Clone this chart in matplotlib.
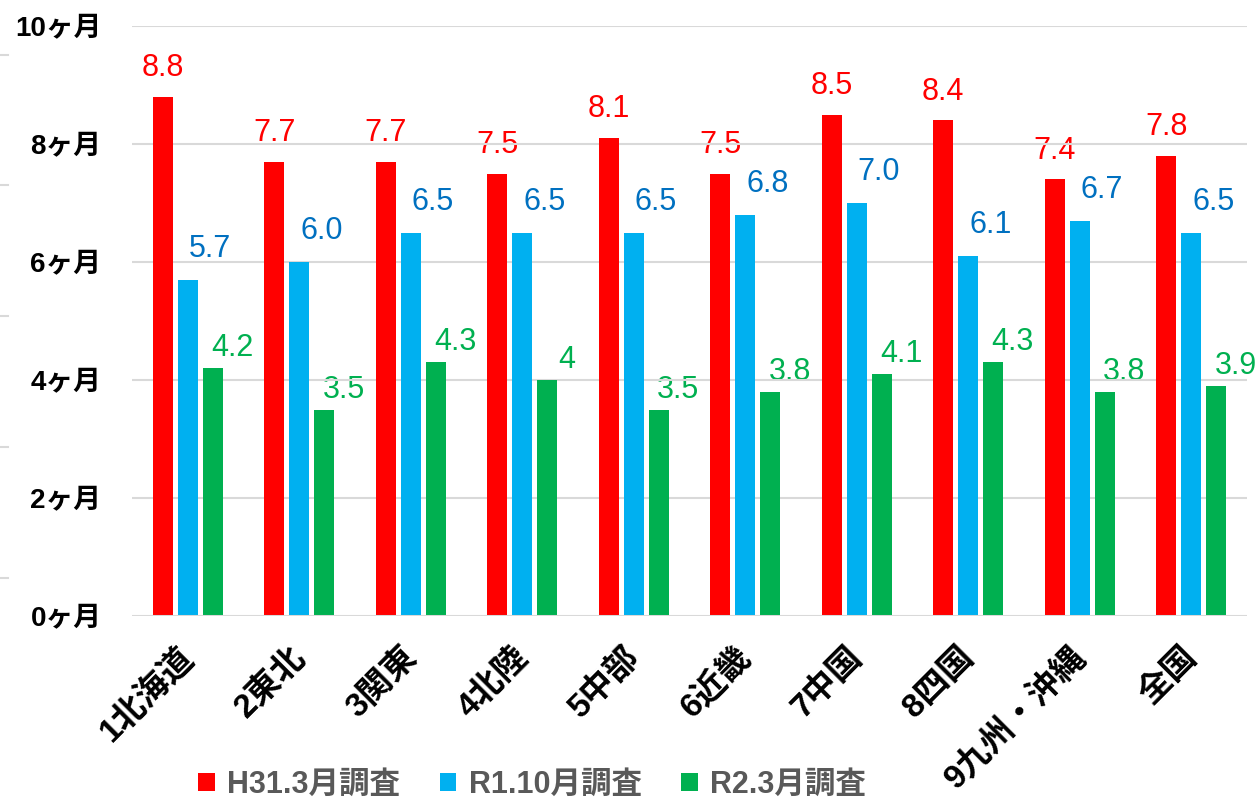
import matplotlib
matplotlib.use("Agg")
import matplotlib.pyplot as plt
from matplotlib.patches import Patch
from matplotlib.lines import Line2D
import matplotlib.transforms as mtransforms
import numpy as np

categories = ["1北海道", "2東北", "3関東", "4北陸", "5中部", "6近畿", "7中国", "8四国", "9九州・沖縄", "全国"]
h31 = [8.8, 7.7, 7.7, 7.5, 8.1, 7.5, 8.5, 8.4, 7.4, 7.8]
r1 = [5.7, 6.0, 6.5, 6.5, 6.5, 6.8, 7.0, 6.1, 6.7, 6.5]
r2 = [4.2, 3.5, 4.3, 4.0, 3.5, 3.8, 4.1, 4.3, 3.8, 3.9]
r2_labels = ["4.2", "3.5", "4.3", "4", "3.5", "3.8", "4.1", "4.3", "3.8", "3.9"]
series_names = ["H31.3月調査", "R1.10月調査", "R2.3月調査"]
yticks = [0, 2, 4, 6, 8, 10]
ytick_labels = [f"{v}ヶ月" for v in yticks]

FAM = ["Liberation Sans", "Noto Sans CJK JP", "DejaVu Sans"]
plt.rcParams["font.family"] = FAM

bar_colors = ["#FF0000", "#00B0F0", "#00B050"]
label_colors = ["#FF0000", "#0070C0", "#00B050"]

fig = plt.figure(figsize=(12.59, 8.02), dpi=100)
ax = fig.add_axes([132/1259, 1-616/802, (1247-132)/1259, (616-26)/802])

x = np.arange(len(categories))
w = 0.18
step = 0.224
data = [h31, r1, r2]
labels_all = [[f"{v:.1f}" for v in h31], [f"{v:.1f}" for v in r1], r2_labels]
# label offsets (points): horizontal shift, vertical gap
dx = [0, 16, 14]
dy = [10, 11.5, 3.5]
for k in range(3):
    xs = x + (k - 1) * step
    ax.bar(xs, data[k], width=w, color=bar_colors[k], zorder=3)
    for xi, v, t in zip(xs, data[k], labels_all[k]):
        ax.annotate(t, (xi, v), xytext=(dx[k], dy[k]), textcoords="offset points",
                    ha="center", va="bottom", fontsize=22, color=label_colors[k],
                    zorder=1)

for yv in yticks[1:]:
    ax.axhline(yv, color="#D9D9D9", lw=1.5, zorder=2)
ax.axhline(0, color="#D9D9D9", lw=2.2, zorder=4)

ax.set_xlim(-0.5, len(categories) - 0.5)
ax.set_ylim(0, 10)
ax.set_yticks(yticks)
ax.set_yticklabels(ytick_labels, fontsize=20, fontweight="bold")
ax.tick_params(axis="y", length=0, pad=22)
ax.set_xticks(x)
ax.set_xticklabels(categories, fontsize=24, fontweight="bold", rotation=45,
                   ha="right", va="center", rotation_mode="anchor")
ax.tick_params(axis="x", length=0, pad=26)
shift = mtransforms.ScaledTranslation(1/72, 0, fig.dpi_scale_trans)
for lab in ax.get_xticklabels():
    lab.set_transform(lab.get_transform() + shift)
for s in ax.spines.values():
    s.set_visible(False)

# small decorative marks at the left edge
for yp in [55, 185, 316, 447, 578]:
    fig.add_artist(Line2D([0, 8/1259], [1-yp/802, 1-yp/802], color="#D9D9D9", lw=1.5))

handles = [Patch(facecolor=c, edgecolor="none") for c in bar_colors]
leg = fig.legend(handles, series_names, loc="center", bbox_to_anchor=(532/1259, 1-785/802),
                 ncol=3, frameon=False, handlelength=0.55, handleheight=0.55,
                 handletextpad=0.4, columnspacing=1.3,
                 prop={"family": FAM, "size": 22, "weight": "bold"})
for t in leg.get_texts():
    t.set_color("#595959")

fig.savefig("out.png", dpi=100)
